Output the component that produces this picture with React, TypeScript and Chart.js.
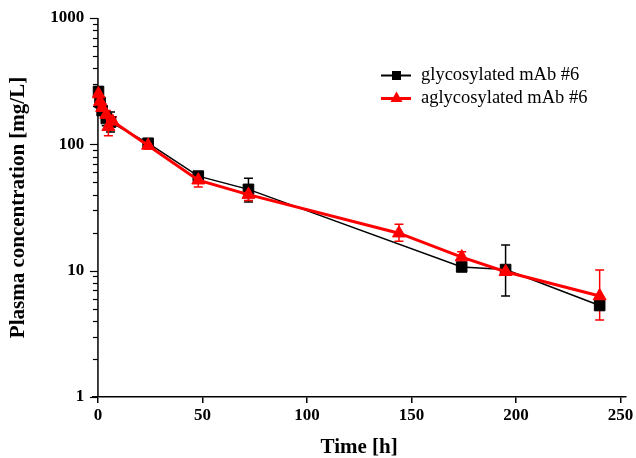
import React, { useEffect, useRef } from "react";
import { Chart, registerables } from "chart.js";

Chart.register(...registerables);

// ---- data ----
const seriesLabels = ["glycosylated mAb #6", "aglycosylated mAb #6"];

const glyTimes = [0.25, 1, 2, 4, 6, 24, 48, 72, 174, 195, 240];
const glyValues = [262, 215, 185, 160, 150, 102, 56, 44, 10.7, 10.2, 5.3];
const glyLow = [240, 195, 170, 140, 125, 96, 52, 35, 10.0, 6.3, 4.9];
const glyHigh = [285, 235, 200, 180, 180, 108, 60, 54, 11.4, 16, 5.8];

const aglyTimes = [0.25, 1, 2, 4, 5, 7, 24, 48, 72, 144, 174, 195, 240];
const aglyValues = [250, 218, 195, 172, 138, 152, 98, 52, 40, 19.8, 12.8, 9.8, 6.3];
const aglyLow = [235, 205, 180, 160, 117, 140, 92, 46, 36, 17.1, 11.6, 9.2, 4.06];
const aglyHigh = [265, 232, 210, 185, 150, 165, 104, 58, 44, 23.3, 14.1, 10.5, 10.1];

const xTickValues = [0, 50, 100, 150, 200, 250];
const yTickValues = [1, 10, 100, 1000];

const xTitle = "Time [h]";
const yTitle = "Plasma concentration [mg/L]";

const SERIF = "'Liberation Serif', 'Times New Roman', Times, serif";

const seriesColors = ["#000000", "#ff0000"];
const errLows = [glyLow, aglyLow];
const errHighs = [glyHigh, aglyHigh];

export default function App() {
  const ref = useRef<HTMLCanvasElement>(null);

  useEffect(() => {
    document.body.style.margin = "0";
    const canvas = ref.current;
    if (!canvas) return;

    const errorBars = {
      id: "errorBars",
      beforeDatasetsDraw(chart: any) {
        const { ctx } = chart;
        const xs = chart.scales.x;
        const ys = chart.scales.y;
        // y axis line at x = 0 with major/minor ticks
        const x0 = xs.getPixelForValue(0);
        ctx.save();
        ctx.strokeStyle = "#000";
        ctx.lineWidth = 1.5;
        ctx.beginPath();
        ctx.moveTo(x0, chart.chartArea.top);
        ctx.lineTo(x0, chart.chartArea.bottom);
        ctx.stroke();
        ctx.lineWidth = 1.2;
        for (let d = 0; d < yTickValues.length; d++) {
          const base = yTickValues[d];
          const maxK = d === yTickValues.length - 1 ? 1 : 9;
          for (let k = 1; k <= maxK; k++) {
            const v = base * k;
            const py = Math.round(ys.getPixelForValue(v)) + 0.5;
            const len = k === 1 ? 8 : 5;
            ctx.beginPath();
            ctx.moveTo(x0 - len, py);
            ctx.lineTo(x0, py);
            ctx.stroke();
          }
        }
        ctx.restore();

        // error bars
        chart.data.datasets.forEach((ds: any, di: number) => {
          const lows = errLows[di];
          const highs = errHighs[di];
          ctx.save();
          ctx.strokeStyle = seriesColors[di];
          ctx.lineWidth = 1.5;
          ds.data.forEach((p: any, i: number) => {
            const px = xs.getPixelForValue(p.x);
            const pl = ys.getPixelForValue(lows[i]);
            const ph = ys.getPixelForValue(highs[i]);
            ctx.beginPath();
            ctx.moveTo(px, pl);
            ctx.lineTo(px, ph);
            ctx.moveTo(px - 4.5, pl);
            ctx.lineTo(px + 4.5, pl);
            ctx.moveTo(px - 4.5, ph);
            ctx.lineTo(px + 4.5, ph);
            ctx.stroke();
          });
          ctx.restore();
        });
      },
    };

    const legendPlugin = {
      id: "customLegend",
      afterDraw(chart: any) {
        const { ctx } = chart;
        ctx.save();
        chart.data.datasets.forEach((ds: any, i: number) => {
          const y = 75.5 + i * 23;
          ctx.strokeStyle = seriesColors[i];
          ctx.fillStyle = seriesColors[i];
          ctx.lineWidth = i === 0 ? 2 : 3;
          ctx.beginPath();
          ctx.moveTo(381, y);
          ctx.lineTo(411, y);
          ctx.stroke();
          if (i === 0) {
            ctx.fillRect(392, y - 4.5, 9, 9);
          } else {
            ctx.beginPath();
            ctx.moveTo(396.5, y - 7);
            ctx.lineTo(402.5, y + 3.5);
            ctx.lineTo(390.5, y + 3.5);
            ctx.closePath();
            ctx.fill();
          }
          ctx.fillStyle = "#000";
          ctx.font = `18.5px ${SERIF}`;
          ctx.textBaseline = "middle";
          ctx.textAlign = "left";
          ctx.fillText(ds.label, 421, y);
        });
        ctx.restore();
      },
    };

    const chart = new Chart(canvas, {
      type: "line",
      data: {
        datasets: [
          {
            label: seriesLabels[0],
            data: glyTimes.map((t, i) => ({ x: t, y: glyValues[i] })),
            borderColor: seriesColors[0],
            backgroundColor: seriesColors[0],
            borderWidth: 1.5,
            pointStyle: "rect",
            pointRadius: 7.5,
            pointBorderWidth: 1,
            tension: 0,
            order: 1,
          },
          {
            label: seriesLabels[1],
            data: aglyTimes.map((t, i) => ({ x: t, y: aglyValues[i] })),
            borderColor: seriesColors[1],
            backgroundColor: seriesColors[1],
            borderWidth: 3,
            pointStyle: "triangle",
            pointRadius: 7.5,
            pointBorderWidth: 1,
            tension: 0,
            order: 0,
          },
        ],
      },
      options: {
        responsive: false,
        animation: false,
        events: [],
        layout: { padding: { top: 18, right: 10, bottom: 0, left: 8 } },
        plugins: {
          legend: { display: false },
          tooltip: { enabled: false },
        },
        scales: {
          x: {
            type: "linear",
            min: -2.7,
            max: 252.6,
            afterBuildTicks: (s: any) => {
              s.ticks = xTickValues.map((v) => ({ value: v }));
            },
            afterFit: (s: any) => {
              s.height = 61;
              s.paddingLeft = 0;
              s.paddingRight = 0;
            },
            border: { display: true, color: "#000", width: 1.5 },
            grid: {
              display: true,
              drawOnChartArea: false,
              drawTicks: true,
              tickLength: 6,
              color: "#000",
              lineWidth: 1.5,
            },
            ticks: {
              color: "#000",
              padding: 2,
              maxRotation: 0,
              font: { family: SERIF, size: 17, weight: "bold" },
            },
            title: {
              display: true,
              text: xTitle,
              color: "#000",
              padding: { top: 0, bottom: 0 },
              font: { family: SERIF, size: 21, weight: "bold", lineHeight: 1 },
            },
          },
          y: {
            type: "logarithmic",
            min: 1,
            max: 1000,
            afterBuildTicks: (s: any) => {
              s.ticks = yTickValues.map((v) => ({ value: v }));
            },
            afterFit: (s: any) => {
              s.width = 84.3;
              s.paddingTop = 0;
              s.paddingBottom = 0;
            },
            border: { display: false },
            grid: { display: false, drawTicks: false },
            ticks: {
              color: "#000",
              padding: 8,
              callback: (v: any) => String(v),
              font: { family: SERIF, size: 17, weight: "bold" },
            },
            title: {
              display: true,
              text: yTitle,
              color: "#000",
              padding: { top: 0, bottom: 0 },
              font: { family: SERIF, size: 21, weight: "bold", lineHeight: 1 },
            },
          },
        },
      },
      plugins: [errorBars, legendPlugin],
    } as any);

    return () => chart.destroy();
  }, []);

  return (
    <div style={{ width: 636, height: 458 }}>
      <canvas ref={ref} width={636} height={458} style={{ display: "block" }} />
    </div>
  );
}
